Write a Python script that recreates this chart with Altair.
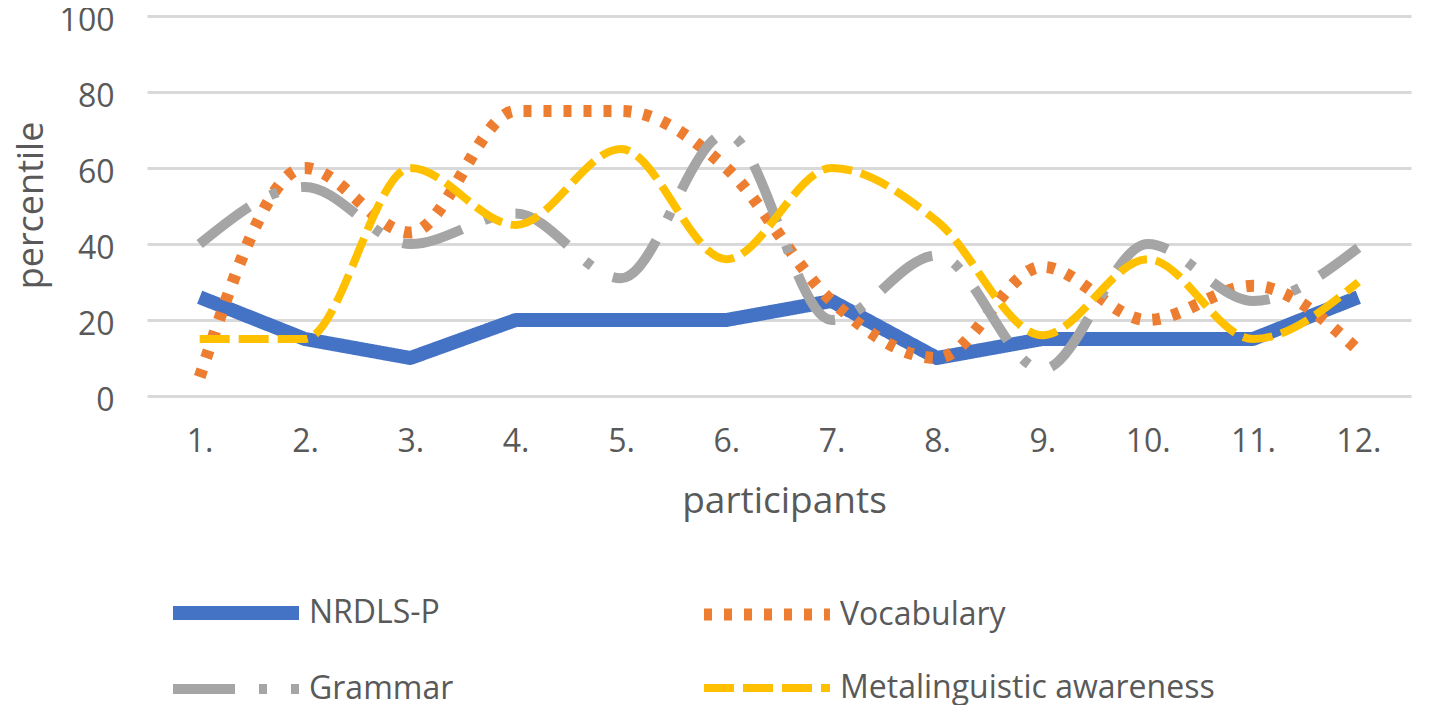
import altair as alt
import pandas as pd

participants = ["1.", "2.", "3.", "4.", "5.", "6.", "7.", "8.", "9.", "10.", "11.", "12."]
series_names = ["NRDLS-P", "Vocabulary", "Grammar", "Metalinguistic awareness"]

nrdls_p = [26, 15, 10, 20, 20, 20, 25, 10, 15, 15, 15, 26]
vocabulary = [5, 60, 43, 75, 75, 60, 25, 10, 34, 20, 29, 12]
grammar = [40, 55, 40, 48, 31, 69, 20, 37, 7, 40, 25, 39]
metalinguistic = [15, 15, 60, 45, 65, 36, 60, 46, 16, 36, 15, 30]

y_ticks = [0, 20, 40, 60, 80, 100]

colors = ["#4472C4", "#ED7D31", "#A5A5A5", "#FFC000"]
dashes = [[1, 0], [8, 12], [62, 24, 8, 24], [30, 9]]
widths = [14, 8, 8, 10]
interps = ["linear", "monotone", "monotone", "monotone"]

rows = []
for name, vals in zip(series_names, [nrdls_p, vocabulary, grammar, metalinguistic]):
    for p, v in zip(participants, vals):
        rows.append({"participant": p, "value": v, "series": name})
df = pd.DataFrame(rows)

FONT = "Open Sans"
TXT = "#595959"

legend = alt.Legend(
    orient="none",
    direction="horizontal",
    legendX=66,
    legendY=574,
    columns=2,
    columnPadding=226,
    rowPadding=27,
    symbolType="M-4,0H4",
    symbolSize=992,
    labelFontSize=32,
    labelFont=FONT,
    labelColor=TXT,
    labelOffset=50,
    labelLimit=0,
    title=None,
    padding=0,
)

base = alt.Chart(df).encode(
    x=alt.X(
        "participant:N",
        sort=participants,
        scale=alt.Scale(type="point", padding=0.5),
        axis=alt.Axis(
            title="participants",
            labelAngle=0,
            labelFontSize=32,
            labelFont=FONT,
            labelColor=TXT,
            labelBaseline="alphabetic",
            labelPadding=55,
            ticks=False,
            tickSize=0,
            domain=False,
            grid=False,
            titleFontSize=37,
            titleFont=FONT,
            titleFontWeight="normal",
            titleColor=TXT,
            titleBaseline="alphabetic",
            titleAlign="center",
            titleX=637,
            titleY=116,
        ),
    ),
    y=alt.Y(
        "value:Q",
        scale=alt.Scale(domain=[0, 100]),
        axis=alt.Axis(
            title="percentile",
            values=y_ticks,
            labelFontSize=32,
            labelFont=FONT,
            labelColor=TXT,
            labelPadding=33,
            labelOffset=4,
            ticks=False,
            tickSize=0,
            domain=False,
            grid=True,
            gridColor="#D9D9D9",
            gridWidth=3,
            titleFontSize=36,
            titleFont=FONT,
            titleFontWeight="normal",
            titleColor=TXT,
            titleAngle=270,
            titleBaseline="alphabetic",
            titleAlign="center",
            titleX=-105,
            titleY=189,
        ),
    ),
    color=alt.Color("series:N", scale=alt.Scale(domain=series_names, range=colors), legend=legend),
    strokeDash=alt.StrokeDash("series:N", scale=alt.Scale(domain=series_names, range=dashes), legend=legend),
    strokeWidth=alt.StrokeWidth("series:N", scale=alt.Scale(domain=series_names, range=widths), legend=legend),
)

layers = []
for name, interp in zip(series_names, interps):
    layers.append(
        base.transform_filter(alt.datum.series == name).mark_line(
            interpolate=interp, strokeCap="butt", strokeJoin="round"
        )
    )

chart = alt.layer(*layers).properties(
    width=1264,
    height=380,
    autosize=alt.AutoSizeParams(type="none"),
    padding={"left": 139, "top": 8, "right": 10, "bottom": 309},
).configure_view(stroke=None)

chart.save("out.html", embed_options={"renderer": "svg", "actions": False})
